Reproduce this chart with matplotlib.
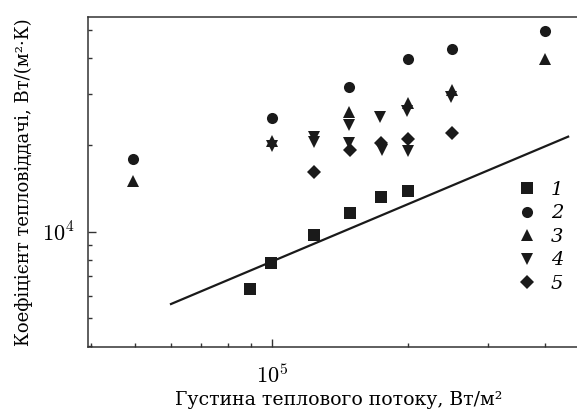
import numpy as np
import matplotlib
matplotlib.use("Agg")
import matplotlib.pyplot as plt
from matplotlib.ticker import FuncFormatter, NullFormatter

# Дані
x1 = [8.96e4, 9.95e4, 1.24e5, 1.487e5, 1.742e5, 1.993e5]
y1 = [6325, 7806, 9740, 11640, 13230, 13880]

x2 = [4.95e4, 1.0e5, 1.484e5, 1.992e5, 2.493e5, 4.0e5]
y2 = [17880, 24880, 31720, 39680, 42990, 49770]

x3 = [4.95e4, 1.0e5, 1.484e5, 1.992e5, 2.493e5, 4.0e5]
y3 = [15000, 20650, 26100, 27920, 31050, 39680]

x4 = [1.0e5, 1.24e5, 1.24e5, 1.484e5, 1.484e5, 1.73e5, 1.75e5, 1.99e5, 2.0e5, 2.49e5]
y4 = [19900, 21320, 20490, 23480, 20270, 24960, 19210, 26310, 19060, 29290]

x5 = [1.24e5, 1.487e5, 1.737e5, 1.992e5, 2.493e5]
y5 = [16160, 19210, 20370, 20940, 21960]

line_x = [6.0e4, 4.5e5]
line_y = [5610, 21380]

labels = ["1", "2", "3", "4", "5"]

plt.rcParams["mathtext.fontset"] = "cm"
plt.rcParams["font.family"] = ["DejaVu Serif"]

fig = plt.figure(figsize=(5.77, 4.17), dpi=100)
ax = fig.add_axes([88.3 / 577, 1 - 346.7 / 417, 500.6 / 577, 330 / 417])

col = "#1a1a1a"
ax.plot(line_x, line_y, color=col, lw=1.6, zorder=1)

h1, = ax.plot(x1, y1, "s", ms=8.6, color=col, mew=0)
h2, = ax.plot(x2, y2, "o", ms=8.0, color=col, mew=0)
h3, = ax.plot(x3, y3, "^", ms=8.0, color=col, mew=0)
h4, = ax.plot(x4, y4, "v", ms=8.0, color=col, mew=0)
h5, = ax.plot(x5, y5, "D", ms=7.4, color=col, mew=0)

ax.set_xscale("log")
ax.set_yscale("log")
ax.set_xlim(39440, 5.0e5)
ax.set_ylim(3988, 55780)

sci = FuncFormatter(lambda v, p: r"$10^{%d}$" % round(np.log10(v)))
ax.xaxis.set_major_formatter(sci)
ax.yaxis.set_major_formatter(sci)
ax.xaxis.set_minor_formatter(NullFormatter())
ax.yaxis.set_minor_formatter(NullFormatter())

for s in ax.spines.values():
    s.set_linewidth(1.1)
    s.set_color("#333333")

ax.tick_params(which="both", direction="in", top=False, right=False,
               color="#333333", labelsize=16)
ax.tick_params(which="major", length=6, width=1.0)
ax.tick_params(which="minor", length=3, width=1.0)
ax.tick_params(axis="x", which="major", pad=13)
ax.tick_params(axis="y", which="major", pad=10)

ax.set_xlabel("Густина теплового потоку, Вт/м²", fontsize=13.6)
ax.set_ylabel("Коефіцієнт тепловіддачі, Вт/(м²·К)", fontsize=13)
ax.xaxis.set_label_coords(0.5, -0.135)
ax.yaxis.set_label_coords(-0.11, 0.5)

ax.legend([h1, h2, h3, h4, h5], labels,
          loc="upper left", bbox_to_anchor=(0.854, 0.502), frameon=False,
          prop=dict(family="DejaVu Serif", style="italic", size=14),
          numpoints=1, handlelength=1.2, handletextpad=0.6,
          labelspacing=0.28, borderpad=0, borderaxespad=0)

plt.savefig("out.png", dpi=100)
plt.close()
